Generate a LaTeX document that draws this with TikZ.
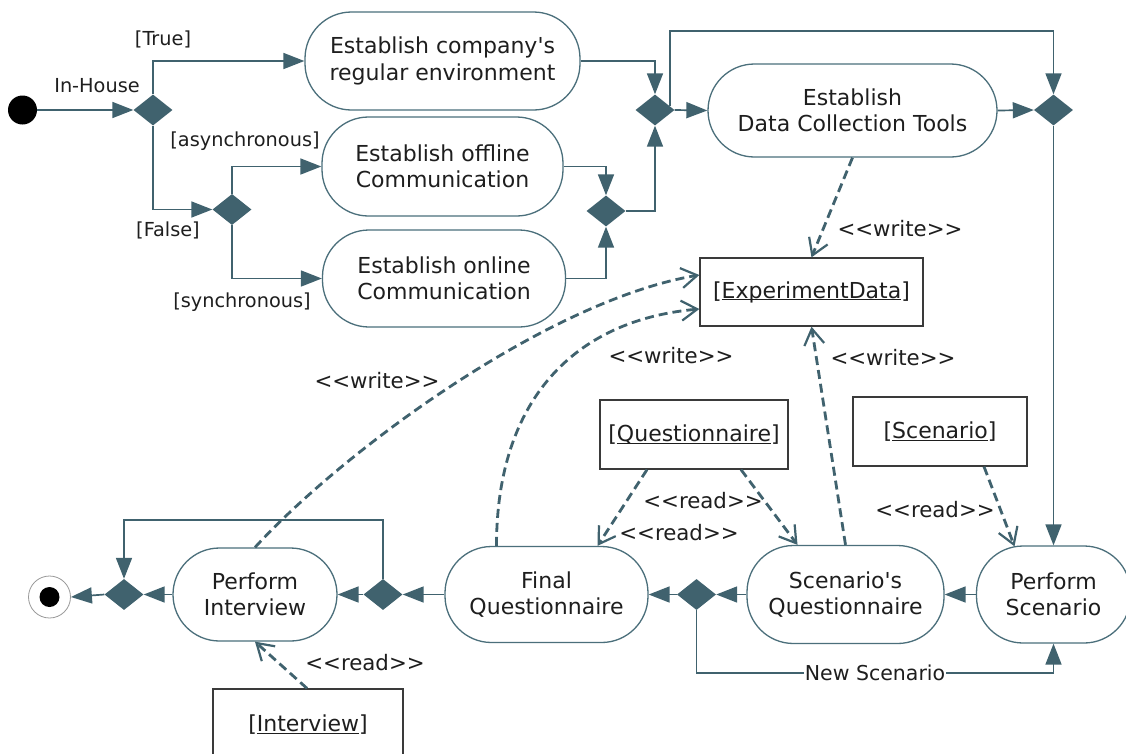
\documentclass[tikz,border=0pt]{standalone}
\usepackage{fontspec}
\newfontfamily\dvs{DejaVu Sans}
\usetikzlibrary{shapes.geometric,arrows.meta,calc}
\definecolor{flowc}{HTML}{40626E}
\definecolor{actc}{HTML}{4B6F7B}
\definecolor{objc}{HTML}{3A3A3A}
\definecolor{txtc}{HTML}{1E1E1E}
% font sizes: activity text, guards, stereotypes, flow label
\newcommand\fA{\dvs\fontsize{22}{26.5}\selectfont}
\newcommand\fG{\dvs\fontsize{19.3}{23}\selectfont}
\newcommand\fS{\dvs\fontsize{21.3}{25}\selectfont}
\newcommand\fN{\dvs\fontsize{20.5}{24}\selectfont}
% underline sitting just below the baseline
\newcommand\objul[1]{\setbox0=\hbox{#1}\rlap{\rule[-2.4pt]{\wd0}{1.1pt}}\box0}
\newcommand\stereo[1]{<\kern0pt<#1>\kern0pt>}
\begin{document}
\begin{tikzpicture}[x=1pt,y=-1pt,
  every node/.style={text=txtc},
  act/.style={draw=actc, line width=1.3pt, rounded corners=46.5pt, inner sep=0pt, align=center, font=\fA},
  dec/.style={diamond, fill=flowc, draw=none, minimum width=39pt, minimum height=31pt, inner sep=0pt},
  obj/.style={draw=objc, line width=1.3pt, inner sep=0pt, font=\fA},
  flow/.style={draw=flowc, line width=1.7pt, -{Triangle[length=21pt,width=16pt]}},
  dep/.style={draw=flowc, line width=2.8pt, dash pattern=on 9pt off 5pt, -{Straight Barb[length=16pt,width=20pt,line width=2.2pt]}},
  guard/.style={font=\fG, inner sep=0pt},
  stlabel/.style={font=\fS, inner sep=0pt},
]
\fill[white] (0,0) rectangle (1126,753);
\useasboundingbox (0,0) rectangle (1126,753);

% ---- start / end ----
\node[circle, fill=black, minimum size=29pt, inner sep=0pt] (init) at (22.5,110) {};
\node[circle, draw=black!40, line width=0.8pt, minimum size=42pt, inner sep=0pt] (fin) at (49.5,597) {};
\node[circle, fill=black, minimum size=20pt, inner sep=0pt] (fincore) at (fin) {};

% ---- activities ----
\node[act, minimum width=275pt, minimum height=98pt] (comp) at (442.5,61) {Establish company's\\regular environment};
\node[act, minimum width=241pt, minimum height=99pt] (off) at (442.5,166.5) {Establish offline\\Communication};
\node[act, minimum width=243pt, minimum height=97pt] (on) at (444,278.5) {Establish online\\Communication};
\node[act, minimum width=289pt, minimum height=93pt] (dc) at (852.5,110.5) {Establish\\Data Collection Tools};
\node[act, minimum width=164pt, minimum height=93pt] (pi) at (255,594.5) {Perform\\Interview};
\node[act, minimum width=203pt, minimum height=96pt] (fq) at (546.5,594.5) {Final\\Questionnaire};
\node[act, minimum width=197pt, minimum height=98pt] (sq) at (845.5,594.5) {Scenario's\\Questionnaire};
\node[act, minimum width=154pt, minimum height=97pt] (ps) at (1053.5,594.5) {Perform\\Scenario};

% ---- objects ----
\node[obj, minimum width=223pt, minimum height=68pt] (ed) at (811.5,292) {[\objul{ExperimentData}]};
\node[obj, minimum width=188pt, minimum height=69pt] (qb) at (694,434.5) {[\objul{Questionnaire}]};
\node[obj, minimum width=174pt, minimum height=69pt] (sb) at (940,431.5) {[\objul{Scenario}]};
\node[obj, minimum width=190pt, minimum height=72pt] (ib) at (308,725) {[\objul{Interview}]};

% ---- decision / merge nodes ----
\node[dec] (d1) at (153,110) {};
\node[dec] (d2) at (232,209.5) {};
\node[dec] (d3) at (606,211) {};
\node[dec] (d4) at (655,110) {};
\node[dec] (d5) at (1053.5,110) {};
\node[dec] (d6) at (124,594.5) {};
\node[dec] (d7) at (383,594.5) {};
\node[dec] (d8) at (696.5,594.5) {};

% ---- control flow ----
\draw[flow] (init) -- (d1.west);
\draw[flow] (d1.north) |- (comp.west);
\draw[flow] (d1.south) |- (d2.west);
\draw[flow] (d2.north) |- (off.west);
\draw[flow] (d2.south) |- (on.west);
\draw[flow] (comp.east) -| (d4.north);
\draw[flow] (off.east) -| (d3.north);
\draw[flow] (on.east) -| (d3.south);
\draw[flow] (d3.east) -| (d4.south);
\draw[flow] (d4.east) -- (dc.west);
\coordinate (d4ne) at ($(d4.east)+(-4.5,-3.6)$);
\coordinate (topy) at (0,31);
\draw[flow] (d4ne) -- (d4ne |- topy) -| (d5.north);
\draw[flow] (dc.east) -- (d5.west);
\draw[flow] (d5.south) -- (ps.north);
\draw[flow] (ps.west) -- (sq.east);
\draw[flow] (sq.west) -- (d8.east);
\draw[flow] (d8.west) -- (fq.east);
\draw[flow] (fq.west) -- (d7.east);
\draw[flow] (d7.west) -- (pi.east);
\draw[flow] (pi.west) -- (d6.east);
\draw[flow] (d6.west) -- (fin.east);
\coordinate (iy) at (0,520);
\draw[flow] (d7.north) -- (d7.north |- iy) -| (d6.north);
\coordinate (ny) at (0,673);
\draw[flow] (d8.south) -- (d8.south |- ny) -- node[fill=white, font=\fN, inner sep=1pt] (lblns) {New Scenario} (ps.south |- ny) -- (ps.south);

% ---- guards ----
\node[guard] (gin) at (97,86) {In-House};
\node[guard] (gtrue) at (163,39) {[True]};
\node[guard] (gfalse) at (168,230) {[False]};
\node[guard] (gasync) at (245,141) {[asynchronous]};
\node[guard] (gsync) at (242,302) {[synchronous]};

% ---- object flows ----
\draw[dep] (dc.south) -- (ed.north);
\draw[dep] (sq.north) -- (ed.south);
\draw[dep] (pi.north) .. controls +(90,-98) and +(-150,25) .. ($(ed.west)+(0,-17)$);
\draw[dep] ($(fq.north)+(-50,0)$) .. controls +(0,-146) and +(-125,11) .. ($(ed.west)+(0,17)$);
\draw[dep] ($(qb.south)+(-47,0)$) -- ($(fq.north)+(51,0)$);
\draw[dep] ($(qb.south)+(47,0)$) -- ($(sq.north)+(-48,0)$);
\draw[dep] ($(sb.south)+(44,0)$) -- ($(ps.north)+(-39,1)$);
\draw[dep] ($(ib.north)+(-1,0)$) -- (pi.south);

% ---- stereotypes ----
\node[stlabel] (w1) at (900,229) {\stereo{write}};
\node[stlabel] (w2) at (377,381) {\stereo{write}};
\node[stlabel] (w3) at (671,356) {\stereo{write}};
\node[stlabel] (w4) at (893,358) {\stereo{write}};
\node[stlabel] (r1) at (703,501) {\stereo{read}};
\node[stlabel] (r2) at (679,533) {\stereo{read}};
\node[stlabel] (r3) at (935,510) {\stereo{read}};
\node[stlabel] (r4) at (365,663) {\stereo{read}};
\end{tikzpicture}
\end{document}
